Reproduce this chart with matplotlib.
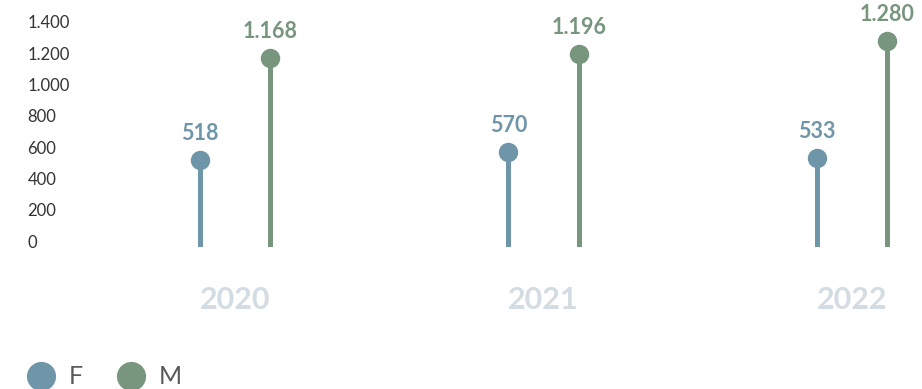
import matplotlib
matplotlib.use("Agg")
import matplotlib.pyplot as plt
from matplotlib.lines import Line2D
import numpy as np

plt.rcParams['font.family'] = ['Lato', 'DejaVu Sans']

years = ["2020", "2021", "2022"]
female = [518, 570, 533]
male = [1168, 1196, 1280]
yticks = [0, 200, 400, 600, 800, 1000, 1200, 1400]
ytick_labels = ["0", "200", "400", "600", "800", "1.000", "1.200", "1.400"]

c_f = "#6F96A8"
c_m = "#78957D"
c_year = "#D2DCE2"

def fmt(v):
    return f"{v:,}".replace(",", ".")

fig = plt.figure(figsize=(9.22, 3.89), dpi=100)
ax = fig.add_axes([90 / 922, 1 - 247 / 389, (922 - 90) / 922, (247 - 5) / 389])

ybot = -38
ytop = 1400 + (22 - 5) * 1438 / 225
ax.set_ylim(ybot, ytop)
ax.set_xlim(-0.47, 2.227)

x = np.arange(len(years))
off = 0.114
for xs, vals, col in ((x - off, female, c_f), (x + off, male, c_m)):
    ax.vlines(xs, ybot, vals, colors=col, linewidth=3.6, zorder=2)
    ax.plot(xs, vals, "o", color=col, markersize=14, zorder=3, markeredgewidth=0)
    for xi, v in zip(xs, vals):
        ax.annotate(fmt(v), (xi, v), xytext=(0, 11.5), textcoords="offset points",
                    ha="center", va="bottom", fontsize=15.5, fontweight="bold", color=col,
                    annotation_clip=False)

for xi, yr in zip(x, years):
    ax.annotate(yr, (xi, ybot), xytext=(0, -38.5), textcoords="offset points",
                ha="center", va="center", fontsize=22, fontweight="bold",
                color=c_year, annotation_clip=False)

ax.set_xticks([])
ax.set_yticks(yticks)
ax.set_yticklabels(ytick_labels, fontsize=12, color="#333333")
ax.tick_params(axis="y", length=0, pad=45)
for lbl in ax.get_yticklabels():
    lbl.set_horizontalalignment("left")
for s in ax.spines.values():
    s.set_visible(False)

handles = [Line2D([], [], marker="o", linestyle="none", markersize=21, color=c_f, markeredgewidth=0),
           Line2D([], [], marker="o", linestyle="none", markersize=21, color=c_m, markeredgewidth=0)]
leg = fig.legend(handles, ["F", "M"], loc="center left", bbox_to_anchor=(25 / 922, 1 - 377 / 389),
                 ncol=2, frameon=False, borderpad=0, borderaxespad=0, handlelength=1.25,
                 handletextpad=0.5, columnspacing=1.3,
                 prop={"size": 18}, labelcolor="#5A5A5A")

fig.savefig("out.png", dpi=100)
